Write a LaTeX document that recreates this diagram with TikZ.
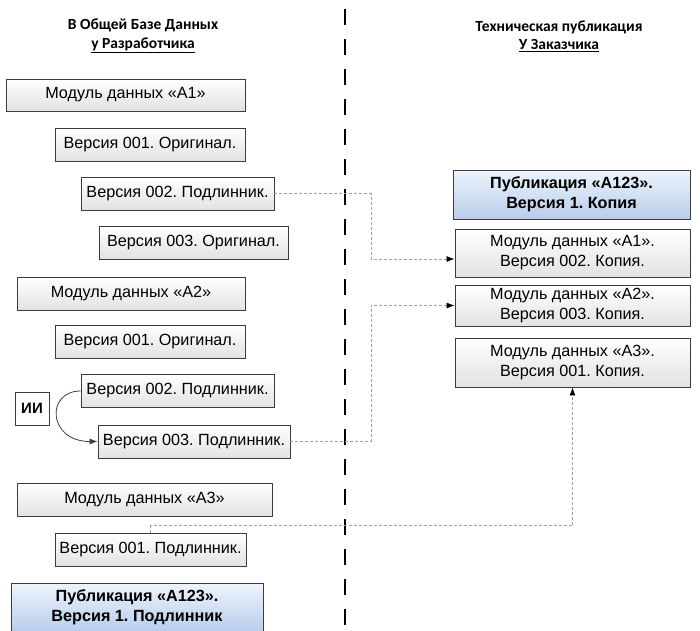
\documentclass[tikz,border=0pt]{standalone}
\usepackage{fontspec}
\setmainfont{Liberation Sans}
\newfontfamily\hdrfont{Carlito}
\usetikzlibrary{arrows.meta}
\frenchspacing
\definecolor{boxline}{RGB}{60,60,60}
\definecolor{boxbot}{RGB}{226,226,226}
\definecolor{bluetop}{RGB}{238,244,252}
\definecolor{bluebot}{RGB}{184,204,234}
\definecolor{conn}{RGB}{160,160,160}
\tikzset{
  box/.style={draw=boxline, line width=0.9pt, top color=white, bottom color=boxbot,
    inner sep=0pt, font=\fontsize{16.2}{20}\selectfont, align=center},
  pubbox/.style={box, top color=bluetop, bottom color=bluebot, font=\fontsize{16.2}{20}\selectfont\bfseries},
  hdr/.style={font=\hdrfont\fontsize{15.5}{18.5}\selectfont\bfseries, align=center},
  link/.style={conn, line width=0.8pt, dash pattern=on 3pt off 2pt, -{Latex[color=black,length=8pt,width=6pt]}},
  divider/.style={line width=2.8pt, dash pattern=on 16pt off 14pt}
}
\begin{document}
\begin{tikzpicture}[x=1pt,y=-1pt]
\useasboundingbox (0,0) rectangle (700,630);
% headers
\node[hdr] (hl) at (143,36) {В Общей Базе Данных\\\underline{у Разработчика}};
\node[hdr] (hr) at (559,36) {Техническая публикация\\\underline{У Заказчика}};
% divider
\coordinate (dtop) at (345,9);
\coordinate (dbot) at (345,640);
\draw[divider] (dtop) -- (dbot);
% left column
\node[box, minimum width=239pt, minimum height=32pt] (b1) at (125.5,95) {Модуль данных «А1»};
\node[box, minimum width=190pt, minimum height=33pt] (b2) at (150,144.5) {Версия 001. Оригинал.};
\node[box, minimum width=193pt, minimum height=33pt] (b3) at (177.5,193.5) {Версия 002. Подлинник.};
\node[box, minimum width=189pt, minimum height=33pt] (b4) at (193.5,242.5) {Версия 003. Оригинал.};
\node[box, minimum width=228pt, minimum height=33pt] (b5) at (131,294) {Модуль данных «А2»};
\node[box, minimum width=190pt, minimum height=33pt] (b6) at (150,341.5) {Версия 001. Оригинал.};
\node[box, minimum width=193pt, minimum height=33pt] (b7) at (177.5,391) {Версия 002. Подлинник.};
\node[box, minimum width=192pt, minimum height=33pt] (b8) at (194,441.5) {Версия 003. Подлинник.};
\node[box, top color=white, bottom color=white, minimum width=34pt, minimum height=33pt, font=\fontsize{15}{19}\selectfont\bfseries] (ii) at (32,408.5) {ИИ};
\node[box, minimum width=255pt, minimum height=33pt] (b10) at (144.5,499.5) {Модуль данных «А3»};
\node[box, minimum width=191pt, minimum height=33pt] (b11) at (150.5,549.5) {Версия 001. Подлинник.};
\node[pubbox, minimum width=252pt, minimum height=49pt] (b12) at (137,607.5) {Публикация «А123».\\Версия 1. Подлинник};
% right column
\node[pubbox, minimum width=237pt, minimum height=49pt] (r0) at (571.5,194.5) {Публикация «А123».\\Версия 1. Копия};
\node[box, minimum width=235pt, minimum height=48pt] (r1) at (572.5,253) {Модуль данных «А1».\\Версия 002. Копия.};
\node[box, minimum width=235pt, minimum height=41pt] (r2) at (572.5,305.5) {Модуль данных «А2».\\Версия 003. Копия.};
\node[box, minimum width=235pt, minimum height=49pt] (r3) at (572.5,362.5) {Модуль данных «А3».\\Версия 001. Копия.};
% connectors
\draw[link] (b3.east) -- (371,193.5) |- ([yshift=-6pt]r1.west);
\draw[link] (b8.east) -- (371,441.5) |- (r2.west);
\draw[link] (b11.north) -- ++(0,-7) -| (r3.south);
\draw[boxline, line width=0.8pt, -{Latex[length=8pt,width=6pt]}] (b7.west) .. controls +(-35,0) and +(-50,0) .. (b8.west);
\end{tikzpicture}
\end{document}
